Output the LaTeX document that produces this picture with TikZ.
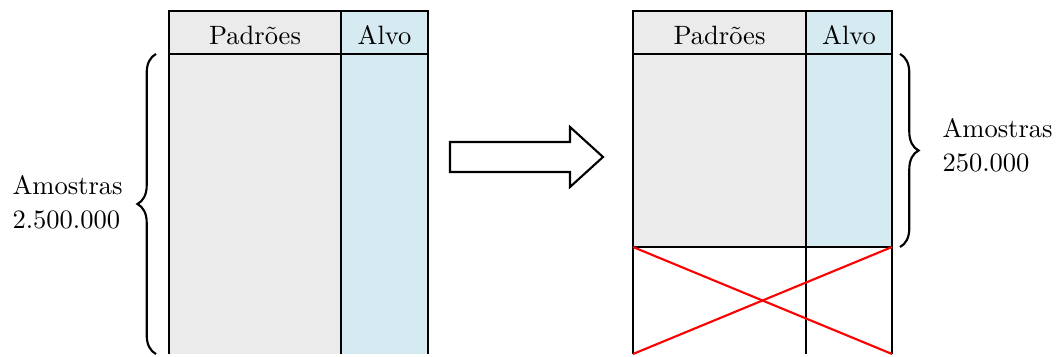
\documentclass[tikz,border=0pt]{standalone}
\usetikzlibrary{decorations.pathreplacing}
\definecolor{featfill}{RGB}{235,235,235}
\definecolor{targfill}{RGB}{214,234,241}
\tikzset{
  cell/.style={line width=0.8pt, draw=black},
  head/.style={inner sep=0pt, anchor=center},
  lbl/.style={align=left, inner sep=0pt, anchor=west, font=\normalsize, text depth=0pt},
  brc/.style={decorate, decoration={brace, amplitude=7pt}, line width=0.8pt},
  cross/.style={red, line width=0.8pt}
}
\begin{document}
\begin{tikzpicture}[x=0.377pt, y=-0.377pt]
\useasboundingbox (0,0) rectangle (1061,356);

% left table: full data set
\fill[featfill] (169,11) rectangle (341,354);
\fill[targfill] (341,11) rectangle (428,354);
\draw[cell] (169,354) -- (169,11) -- (428,11) -- (428,354);
\draw[cell] (169,54) -- (428,54);
\draw[cell] (341,11) -- (341,354);
\node[head] (lp) at (255,35) {Padrões};
\node[head] (la) at (384.5,35) {Alvo};

% left brace and label
\coordinate (lbb) at (156,354);
\coordinate (lbt) at (156,54);
\draw[brc] (lbb) -- (lbt);
\node[lbl] (lt) at (12,202) {Amostras\\[0.8pt]2.500.000};

% arrow between tables
\draw[line width=0.8pt, fill=white] (450,142) -- (570,142) -- (570,127) -- (603,157)
  -- (570,187) -- (570,172) -- (450,172) -- cycle;

% right table: reduced data set
\fill[featfill] (633,11) rectangle (806,247);
\fill[targfill] (806,11) rectangle (892,247);
\draw[cell] (633,354) -- (633,11) -- (892,11) -- (892,354);
\draw[cell] (633,54) -- (892,54);
\draw[cell] (633,247) -- (892,247);
\draw[cell] (806,11) -- (806,354);
\node[head] (rp) at (719.5,35) {Padrões};
\node[head] (ra) at (849,35) {Alvo};

% discarded rows
\draw[cross] (633,247) -- (892,354);
\draw[cross] (633,354) -- (892,247);

% right brace and label
\coordinate (rbt) at (900,54);
\coordinate (rbb) at (900,247);
\draw[brc] (rbt) -- (rbb);
\node[lbl] (rt) at (942,145) {Amostras\\[0.8pt]250.000};
\end{tikzpicture}
\end{document}
